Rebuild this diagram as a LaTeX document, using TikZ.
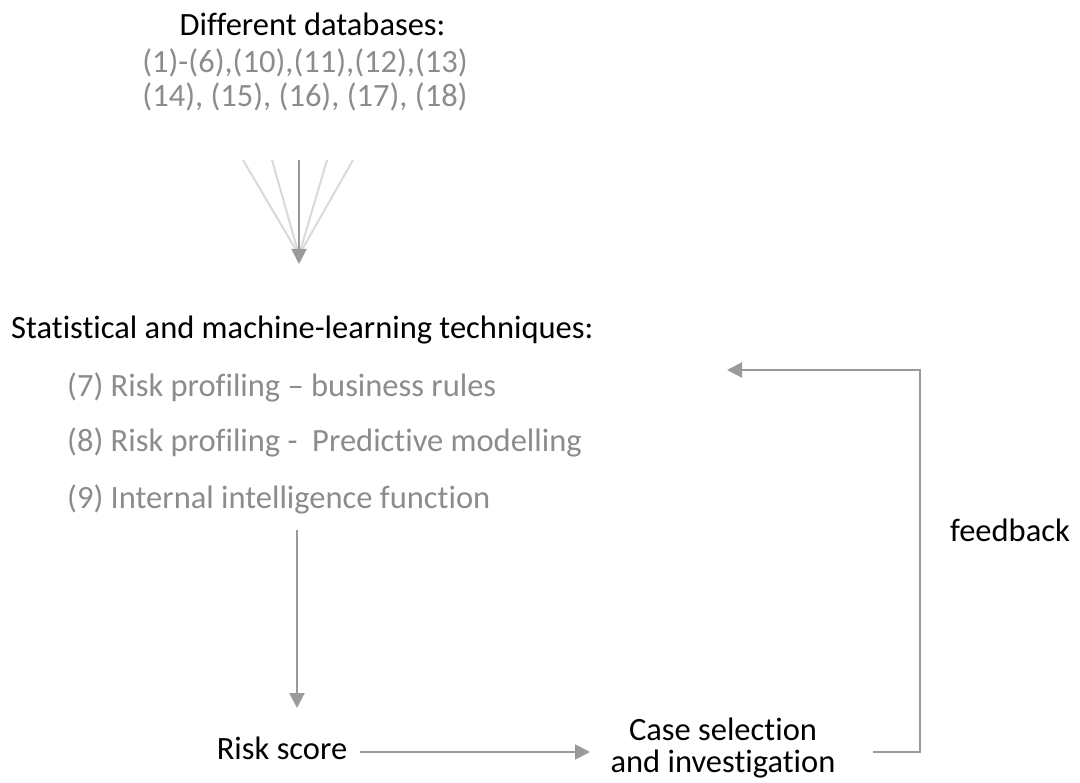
\documentclass[tikz,border=0pt]{standalone}
\usepackage{fontspec}
\setmainfont{Carlito}[Ligatures={NoCommon}]
\usetikzlibrary{arrows.meta}
\definecolor{txtgray}{HTML}{8C8C8C}
\definecolor{linegray}{HTML}{9A9A9A}
\definecolor{fangray}{HTML}{D9D9D9}
\tikzset{
  lbl/.style={inner sep=0pt, anchor=base, font=\fontsize{32.5}{34}\selectfont, text=black},
  glbl/.style={lbl, text=txtgray},
  conn/.style={draw=linegray, line width=2pt, -{Triangle[length=15pt,width=15pt]}},
  fanline/.style={draw=fangray, line width=2pt}
}
\begin{document}
\begin{tikzpicture}[x=1pt,y=-1pt]
\useasboundingbox (0,0) rectangle (1080,783);
\node[lbl] (title) at (312.5,36) {Different databases:};
\node[glbl] (dbs1) at (305,73) {(1)-(6),(10),(11),(12),(13)};
\node[glbl] (dbs2) at (305,107) {(14), (15), (16), (17), (18)};
\coordinate (f0) at (299,160);
\coordinate (fa) at (243,160);
\coordinate (fb) at (272,160);
\coordinate (fc) at (327,160);
\coordinate (fd) at (353,160);
\coordinate (fm) at (299,255);
\coordinate (ftip) at (299,264);
\draw[fanline] (fa) -- (fm);
\draw[fanline] (fb) -- (fm);
\draw[fanline] (fc) -- (fm);
\draw[fanline] (fd) -- (fm);
\draw[conn] (f0) -- (ftip);
\node[lbl, anchor=base west] (stat) at (11,339) {Statistical and machine-learning techniques:};
\node[glbl, anchor=base west] (t7) at (67,397) {(7) Risk profiling -- business rules};
\node[glbl, anchor=base west] (t8) at (67,452) {(8) Risk profiling -\ \ Predictive modelling};
\node[glbl, anchor=base west] (t9) at (67,509) {(9) Internal intelligence function};
\coordinate (d0) at (297,530);
\coordinate (d1) at (297,708);
\node[lbl] (risk) at (282,759) {Risk score};
\node[lbl] (case) at (723,740) {Case selection};
\node[lbl] (case2) at (723,772) {and investigation};
\node[lbl] (fb) at (1010,542) {feedback};
\coordinate (r0) at (360,752);
\coordinate (r1) at (590,752);
\coordinate (c0) at (873,752);
\coordinate (c1) at (920,752);
\coordinate (c2) at (920,370);
\coordinate (c3) at (727,370);
\draw[conn] (d0) -- (d1);
\draw[conn] (r0) -- (r1);
\draw[conn] (c0) -- (c1) -- (c2) -- (c3);
\end{tikzpicture}
\end{document}
